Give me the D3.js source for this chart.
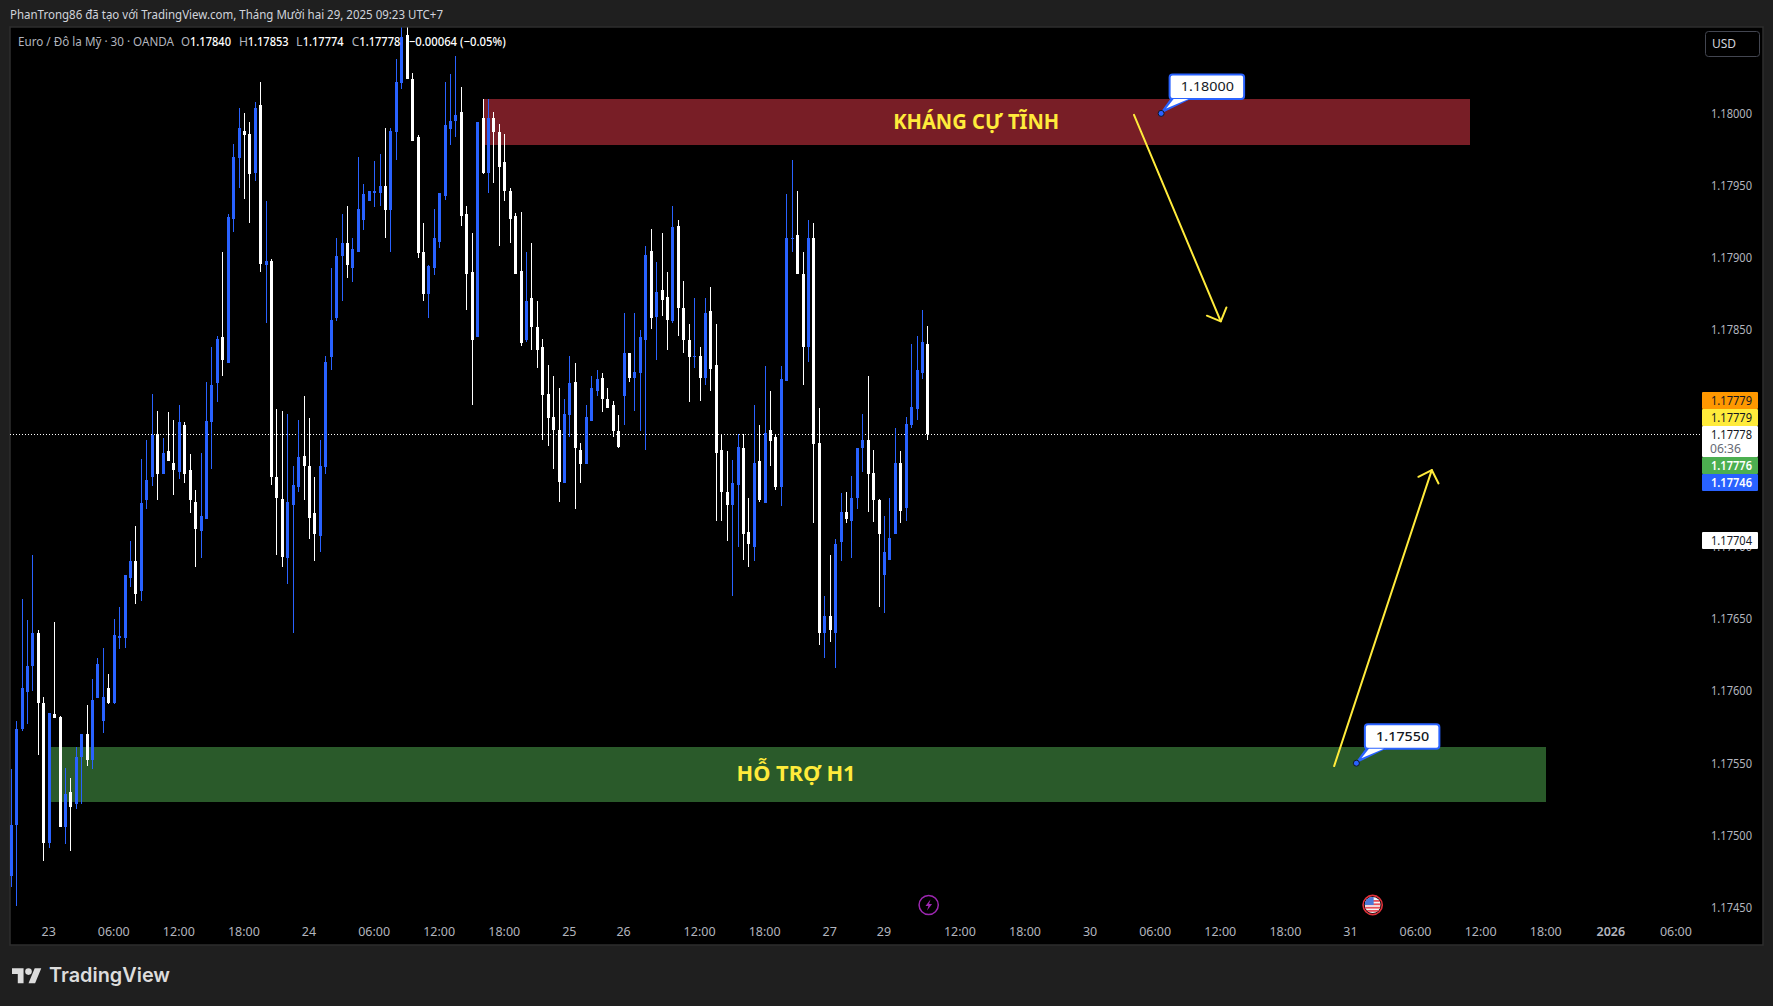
<!DOCTYPE html>
<html><head><meta charset="utf-8">
<script src="https://cdn.jsdelivr.net/npm/d3@7"></script>
<style>
html,body{margin:0;padding:0;background:#1f1f1f;overflow:hidden}
svg{display:block}
text{font-family:"Noto Sans",Roboto,sans-serif}
</style></head><body>
<script>
const opens=[1.17472,1.17507,1.17574,1.17599,1.17617,1.17640,1.17592,1.17495,1.17584,1.17582,
1.17506,1.17530,1.17522,1.17554,1.17570,1.17552,1.17595,1.17579,1.17602,1.17592,
1.17637,1.17637,1.17678,1.17690,1.17669,1.17732,1.17748,1.17778,1.17750,1.17766,
1.17758,1.17752,1.17784,1.17753,1.17731,1.17711,1.17719,1.17786,1.17813,1.17845,
1.17827,1.17927,1.17969,1.17988,1.17986,1.17959,1.18006,1.17895,1.17898,1.17748,
1.17733,1.17692,1.17729,1.17741,1.17763,1.17756,1.17723,1.17707,1.17755,1.17831,
1.17858,1.17901,1.17910,1.17893,1.17904,1.17926,1.17939,1.17945,1.17945,1.17950,
1.17933,1.17987,1.18021,1.18054,1.18024,1.17984,1.17904,1.17875,1.17893,1.17911,
1.17943,1.17989,1.17995,1.18001,1.17930,1.17890,1.17845,1.17997,1.17959,1.17997,
1.17987,1.17966,1.17946,1.17929,1.17891,1.17843,1.17872,1.17852,1.17838,1.17806,
1.17790,1.17781,1.17744,1.17791,1.17814,1.17767,1.17757,1.17787,1.17808,1.17817,
1.17802,1.17798,1.17780,1.17804,1.17834,1.17817,1.17820,1.17843,1.17905,1.17859,
1.17878,1.17873,1.17856,1.17922,1.17865,1.17843,1.17831,1.17832,1.17817,1.17863,
1.17826,1.17767,1.17738,1.17729,1.17743,1.17768,1.17710,1.17700,1.17759,1.17730,
1.17781,1.17776,1.17741,1.17815,1.17913,1.17916,1.17889,1.17838,1.17914,1.17772,
1.17640,1.17652,1.17640,1.17703,1.17724,1.17718,1.17734,1.17768,1.17774,1.17751,
1.17732,1.17680,1.17691,1.17709,1.17758,1.17727,1.17784,1.17795,1.17820,1.17840];
const highs=[1.17546,1.17579,1.17664,1.17649,1.17694,1.17642,1.17596,1.17585,1.17648,1.17583,
1.17547,1.17540,1.17561,1.17570,1.17590,1.17608,1.17623,1.17630,1.17612,1.17650,
1.17658,1.17680,1.17704,1.17714,1.17761,1.17774,1.17806,1.17794,1.17775,1.17793,
1.17788,1.17798,1.17786,1.17764,1.17739,1.17765,1.17814,1.17838,1.17846,1.17904,
1.17930,1.17979,1.18004,1.18000,1.17994,1.18008,1.18022,1.17939,1.17899,1.17795,
1.17794,1.17792,1.17756,1.17788,1.17804,1.17789,1.17748,1.17774,1.17832,1.17893,
1.17914,1.17930,1.17936,1.17914,1.17970,1.17951,1.17946,1.17967,1.17972,1.17990,
1.17990,1.18038,1.18060,1.18060,1.18028,1.17985,1.17924,1.17895,1.17934,1.17945,
1.18022,1.18027,1.18040,1.18018,1.17936,1.17917,1.17994,1.18010,1.18010,1.18001,
1.17993,1.17986,1.17948,1.17931,1.17932,1.17904,1.17910,1.17870,1.17844,1.17826,
1.17818,1.17810,1.17802,1.17832,1.17827,1.17772,1.17798,1.17818,1.17822,1.17820,
1.17810,1.17801,1.17791,1.17862,1.17834,1.17862,1.17850,1.17908,1.17920,1.17897,
1.17917,1.17890,1.17936,1.17926,1.17884,1.17854,1.17872,1.17838,1.17872,1.17880,
1.17854,1.17778,1.17766,1.17760,1.17778,1.17778,1.17734,1.17798,1.17784,1.17825,
1.17808,1.17777,1.17825,1.17944,1.17968,1.17946,1.17904,1.17926,1.17924,1.17796,
1.17666,1.17694,1.17705,1.17737,1.17738,1.17749,1.17768,1.17792,1.17818,1.17767,
1.17733,1.17721,1.17734,1.17782,1.17766,1.17790,1.17840,1.17846,1.17864,1.17853];
const lows=[1.17464,1.17451,1.17572,1.17577,1.17600,1.17556,1.17482,1.17491,1.17581,1.17506,
1.17494,1.17489,1.17518,1.17522,1.17548,1.17546,1.17595,1.17571,1.17591,1.17591,
1.17629,1.17630,1.17672,1.17660,1.17662,1.17726,1.17742,1.17732,1.17750,1.17759,
1.17736,1.17747,1.17744,1.17723,1.17686,1.17692,1.17719,1.17754,1.17800,1.17818,
1.17827,1.17918,1.17948,1.17941,1.17924,1.17953,1.17890,1.17855,1.17743,1.17694,
1.17686,1.17674,1.17640,1.17738,1.17732,1.17705,1.17690,1.17696,1.17750,1.17822,
1.17856,1.17870,1.17886,1.17883,1.17904,1.17919,1.17939,1.17935,1.17936,1.17914,
1.17904,1.17968,1.18017,1.18024,1.17981,1.17900,1.17870,1.17858,1.17888,1.17907,
1.17940,1.17978,1.17984,1.17922,1.17864,1.17798,1.17845,1.17958,1.17945,1.17952,
1.17908,1.17939,1.17910,1.17889,1.17839,1.17842,1.17836,1.17824,1.17774,1.17770,
1.17754,1.17731,1.17744,1.17776,1.17726,1.17744,1.17757,1.17787,1.17804,1.17793,
1.17796,1.17776,1.17768,1.17784,1.17814,1.17794,1.17780,1.17767,1.17851,1.17829,
1.17860,1.17836,1.17855,1.17846,1.17834,1.17800,1.17824,1.17801,1.17812,1.17808,
1.17718,1.17718,1.17704,1.17666,1.17700,1.17691,1.17686,1.17690,1.17731,1.17730,
1.17756,1.17739,1.17728,1.17815,1.17904,1.17889,1.17812,1.17828,1.17716,1.17632,
1.17623,1.17634,1.17616,1.17690,1.17716,1.17692,1.17726,1.17752,1.17724,1.17717,
1.17658,1.17654,1.17691,1.17709,1.17716,1.17718,1.17782,1.17788,1.17816,1.17774];
const closes=[1.17507,1.17574,1.17602,1.17617,1.17640,1.17592,1.17495,1.17585,1.17581,1.17506,
1.17529,1.17520,1.17554,1.17570,1.17552,1.17594,1.17619,1.17596,1.17592,1.17639,
1.17638,1.17680,1.17690,1.17667,1.17730,1.17746,1.17777,1.17750,1.17765,1.17759,
1.17753,1.17786,1.17750,1.17732,1.17712,1.17721,1.17787,1.17812,1.17844,1.17829,
1.17928,1.17970,1.17990,1.17985,1.17958,1.18004,1.17896,1.17898,1.17748,1.17734,
1.17693,1.17731,1.17743,1.17762,1.17756,1.17720,1.17709,1.17756,1.17828,1.17857,
1.17901,1.17910,1.17895,1.17906,1.17934,1.17944,1.17946,1.17946,1.17950,1.17933,
1.17988,1.18022,1.18053,1.18024,1.17981,1.17903,1.17875,1.17894,1.17914,1.17945,
1.17992,1.17995,1.17999,1.17929,1.17889,1.17843,1.17994,1.17959,1.17997,1.17987,
1.17963,1.17946,1.17927,1.17889,1.17841,1.17870,1.17852,1.17836,1.17805,1.17789,
1.17781,1.17745,1.17792,1.17813,1.17768,1.17757,1.17790,1.17810,1.17816,1.17802,
1.17796,1.17780,1.17769,1.17834,1.17817,1.17821,1.17845,1.17902,1.17858,1.17876,
1.17871,1.17857,1.17921,1.17865,1.17843,1.17831,1.17832,1.17817,1.17862,1.17823,
1.17765,1.17738,1.17729,1.17744,1.17769,1.17709,1.17702,1.17758,1.17732,1.17779,
1.17773,1.17741,1.17816,1.17914,1.17914,1.17889,1.17838,1.17914,1.17771,1.17640,
1.17652,1.17642,1.17702,1.17724,1.17719,1.17734,1.17768,1.17774,1.17750,1.17732,
1.17709,1.17696,1.17706,1.17758,1.17725,1.17785,1.17797,1.17822,1.17842,1.17778];

const priceTicks=[1.18000,1.17950,1.17900,1.17850,1.17700,1.17650,1.17600,1.17550,1.17500,1.17450];
const timeTickBars=[7,19,31,43,55,67,79,91,103,113,127,139,151,161,175,187,199,211,223,235,247,259,271,283,295,307];
const timeTickLabels=["23","06:00","12:00","18:00","24","06:00","12:00","18:00","25","26","12:00","18:00","27","29","12:00","18:00","30","06:00","12:00","18:00","31","06:00","12:00","18:00","2026","06:00"];

const zoneNames=["KHÁNG CỰ TĨNH","HỖ TRỢ H1"];
const zoneStartBars=[87,7.2];
const zoneEndBars=[269,283];
const zoneTops=[1.18010,1.17561];
const zoneBottoms=[1.17978,1.17523];
const zoneColors=["#781e26","#2a5a2a"];
const zoneLabelBars=[177.9,144.7];
const zoneLabelWidths=[166,119];

const arrowStartBars=[207,243.9];
const arrowStartPrices=[1.17999,1.17548];
const arrowEndBars=[223,261.9];
const arrowEndPrices=[1.17856,1.17753];

const noteBars=[212,248];
const notePrices=[1.18000,1.17550];
const noteTexts=["1.18000","1.17550"];

const tagPrices=[1.17779,1.17779,1.17778,1.17776,1.17746,1.17704];

const W=1773,H=1006;
const x=d3.scaleLinear().domain([0,307]).range([11.2,1676.4]);
const y=d3.scaleLinear().domain([1.18,1.1745]).range([113.4,907.6]);
const BLUE="#2962ff",YEL="#ffeb3b",AXIS="#b2b5be";
const bars=opens.map((o,i)=>({i,o,h:highs[i],l:lows[i],c:closes[i]}));

const svg=d3.select("body").append("svg").attr("width",W).attr("height",H).attr("viewBox",`0 0 ${W} ${H}`);
svg.append("rect").attr("width",W).attr("height",H).attr("fill","#1f1f1f");
// pane
svg.append("rect").attr("x",10).attr("y",27).attr("width",1753).attr("height",918).attr("fill","#000").attr("stroke","#2e2e2e").attr("stroke-width",1.5);
const defs=svg.append("defs");
defs.append("clipPath").attr("id","pane").append("rect").attr("x",10).attr("y",27.5).attr("width",1753).attr("height",917);
defs.append("clipPath").attr("id","flag").append("circle").attr("r",8);

const chart=svg.append("g").attr("clip-path","url(#pane)");

// zones
chart.append("g").selectAll("rect").data(zoneNames).join("rect")
 .attr("x",(d,i)=>x(zoneStartBars[i])).attr("width",(d,i)=>x(zoneEndBars[i])-x(zoneStartBars[i]))
 .attr("y",(d,i)=>y(zoneTops[i])).attr("height",(d,i)=>y(zoneBottoms[i])-y(zoneTops[i]))
 .attr("fill",(d,i)=>zoneColors[i]).attr("shape-rendering","crispEdges");

// last price line
chart.append("line").attr("x1",10).attr("x2",1701).attr("y1",Math.round(y(closes[169]))+.5).attr("y2",Math.round(y(closes[169]))+.5)
 .attr("stroke","#fff").attr("stroke-width",1).attr("stroke-dasharray","1 2");

// candles
const cg=chart.append("g").attr("shape-rendering","crispEdges");
const col=d=>d.c>=d.o?BLUE:"#ffffff";
cg.selectAll("rect.w").data(bars).join("rect").attr("class","w")
 .attr("x",d=>Math.floor(x(d.i))).attr("width",1)
 .attr("y",d=>Math.round(y(d.h))).attr("height",d=>Math.max(1,Math.round(y(d.l))-Math.round(y(d.h))))
 .attr("fill",col);
cg.selectAll("rect.b").data(bars).join("rect").attr("class","b")
 .attr("x",d=>Math.floor(x(d.i))-1).attr("width",3)
 .attr("y",d=>Math.round(y(Math.max(d.o,d.c))))
 .attr("height",d=>Math.max(1,Math.round(y(Math.min(d.o,d.c)))-Math.round(y(Math.max(d.o,d.c)))))
 .attr("fill",col);

// zone labels
chart.append("g").selectAll("text").data(zoneNames).join("text")
 .attr("x",(d,i)=>x(zoneLabelBars[i])).attr("y",(d,i)=>(y(zoneTops[i])+y(zoneBottoms[i]))/2+1)
 .attr("text-anchor","middle").attr("dominant-baseline","middle")
 .attr("fill",YEL).attr("font-size",21).attr("font-weight",700)
 .attr("textLength",(d,i)=>zoneLabelWidths[i]).attr("lengthAdjust","spacingAndGlyphs")
 .text(d=>d);

// arrows
const ag=chart.append("g").attr("fill","none").attr("stroke",YEL).attr("stroke-width",2).attr("stroke-linecap","round").attr("stroke-linejoin","round");
arrowStartBars.forEach((b,i)=>{
  const x0=x(b),y0=y(arrowStartPrices[i]),x1=x(arrowEndBars[i]),y1=y(arrowEndPrices[i]);
  const a=Math.atan2(y0-y1,x0-x1),L=15,t=Math.PI/4;
  ag.append("path").attr("d",d3.line()([[x0,y0],[x1,y1]]));
  ag.append("path").attr("d",d3.line()([[x1+L*Math.cos(a+t),y1+L*Math.sin(a+t)],[x1,y1],[x1+L*Math.cos(a-t),y1+L*Math.sin(a-t)]]));
});

// callouts
noteTexts.forEach((s,i)=>{
  const dx=x(noteBars[i]),dy=y(notePrices[i]);
  const g=chart.append("g");
  const bl=dx+8.5,bt=dy-39,bw=74.5,bh=24.5;
  g.append("path").attr("d",d3.line()([[dx,dy],[bl+2,bt+bh],[bl+21,bt+bh]])).attr("fill",BLUE).attr("stroke",BLUE).attr("stroke-width",2).attr("stroke-linejoin","round");
  g.append("rect").attr("x",bl).attr("y",bt).attr("width",bw).attr("height",bh).attr("rx",3).attr("fill","#fff").attr("stroke",BLUE).attr("stroke-width",2);
  g.append("path").attr("d",d3.line()([[dx+5,dy-5],[bl+4,bt+bh],[bl+19,bt+bh]])).attr("fill","#fff");
  g.append("circle").attr("cx",dx).attr("cy",dy).attr("r",3).attr("fill",BLUE).attr("stroke","#131722").attr("stroke-width",1);
  g.append("text").attr("x",bl+bw/2+0.5).attr("y",bt+bh/2+1).attr("text-anchor","middle").attr("dominant-baseline","middle")
   .attr("fill","#131722").attr("font-size",13).attr("font-weight",i===1?500:400).attr("textLength",53).attr("lengthAdjust","spacingAndGlyphs").text(s);
});

// events
const ev=chart.append("g");
const e1=ev.append("g").attr("transform",`translate(${x(169)+0.8},905)`);
e1.append("circle").attr("r",9.6).attr("fill","none").attr("stroke","#9c27b0").attr("stroke-width",1.5);
e1.append("path").attr("d","M1.8,-5.5 L-3.2,1 L-0.3,1 L-1.6,5.5 L3.4,-1 L0.4,-1 Z").attr("fill","#9c27b0");
const e2=ev.append("g").attr("transform",`translate(${x(251)},905)`);
e2.append("circle").attr("r",9.6).attr("fill","#000").attr("stroke","#e0313a").attr("stroke-width",1.6);
const fl=e2.append("g").attr("clip-path","url(#flag)");
fl.append("rect").attr("x",-8).attr("y",-8).attr("width",16).attr("height",16).attr("fill","#f5f5f5");
[-5,-1.6,1.8,5].forEach(v=>fl.append("rect").attr("x",-8).attr("y",v).attr("width",16).attr("height",1.8).attr("fill","#e8505b"));
fl.append("rect").attr("x",-8).attr("y",-8).attr("width",9).attr("height",8).attr("fill","#4a78d8");

// price axis
svg.append("g").selectAll("text").data(priceTicks).join("text")
 .attr("x",1752).attr("y",d=>y(d)+1).attr("text-anchor","end").attr("dominant-baseline","middle")
 .attr("fill",AXIS).attr("font-size",12.5).attr("textLength",41).attr("lengthAdjust","spacingAndGlyphs")
 .text(d=>d.toFixed(5));

// time axis
svg.append("g").selectAll("text").data(timeTickLabels).join("text")
 .attr("x",(d,i)=>x(timeTickBars[i])-0.5).attr("y",933).attr("text-anchor","middle").attr("dominant-baseline","middle")
 .attr("fill",(d)=>AXIS).attr("font-size",12.5).attr("font-weight",d=>d==="2026"?600:400)
 .text(d=>d);

// price tags
const tagColors=["#ff9800","#ffeb3b","#ffffff","#4caf50","#2962ff","#ffffff"];
const tagText=["#131722","#131722","#131722","#ffffff","#ffffff","#131722"];
const tagTops=[392,409,426,457,474,532];
const tagHeights=[17,17,31,17,17,17];
const tg=svg.append("g");
tagPrices.forEach((p,i)=>{
  tg.append("rect").attr("x",1702).attr("y",tagTops[i]).attr("width",56).attr("height",tagHeights[i]).attr("rx",1).attr("fill",tagColors[i]);
  tg.append("text").attr("x",1752).attr("y",tagTops[i]+9.5).attr("text-anchor","end").attr("dominant-baseline","middle")
   .attr("fill",tagText[i]).attr("font-size",12.5).attr("font-weight",(i==3||i==4)?600:400)
   .attr("textLength",41).attr("lengthAdjust","spacingAndGlyphs").text(p.toFixed(5));
});
tg.append("text").attr("x",1710).attr("y",449.5).attr("dominant-baseline","middle").attr("fill","#666a75").attr("font-size",12).attr("textLength",31).attr("lengthAdjust","spacingAndGlyphs").text("06:36");

// USD box
svg.append("rect").attr("x",1705.5).attr("y",31.5).attr("width",54).attr("height",25).attr("rx",3).attr("fill","#000").attr("stroke","#434651");
svg.append("text").attr("x",1724).attr("y",45).attr("text-anchor","middle").attr("dominant-baseline","middle").attr("fill","#d1d4dc").attr("font-size",12).text("USD");

// header
svg.append("text").attr("x",10).attr("y",16).attr("dominant-baseline","middle").attr("fill","#d1d4dc").attr("font-size",12.5)
 .attr("textLength",433).attr("lengthAdjust","spacingAndGlyphs")
 .text("PhanTrong86 đã tạo với TradingView.com, Tháng Mười hai 29, 2025 09:23 UTC+7");

// legend
const legend=[
 ["Euro / Đô la Mỹ · 30 · OANDA",18,156,AXIS,400],
 ["O",181,9,AXIS,400],[opens[169].toFixed(5),190,41,"#fff",500],
 ["H",239,9,AXIS,400],[highs[169].toFixed(5),247.7,41,"#fff",500],
 ["L",296,6.5,AXIS,400],[lows[169].toFixed(5),302.7,41,"#fff",500],
 ["C",351.7,7.5,AXIS,400],[closes[169].toFixed(5),359.3,41,"#fff",500],
 ["−0.00064 (−0.05%)",408.7,97,"#fff",500]
];
svg.append("g").selectAll("text").data(legend).join("text")
 .attr("x",d=>d[1]).attr("y",43).attr("dominant-baseline","middle").attr("fill",d=>d[3]).attr("font-size",12.5).attr("font-weight",d=>d[4])
 .attr("textLength",d=>d[2]).attr("lengthAdjust","spacingAndGlyphs").text(d=>d[0]);

// TradingView logo
const lg=svg.append("g").attr("transform","translate(12,965) scale(0.825)").attr("fill","#dcdcdc");
lg.append("path").attr("d","M14 22H7V11H0V4h14v18zM28 22h-8l7.5-18h8L28 22z");
lg.append("circle").attr("cx",20).attr("cy",8).attr("r",4);
svg.append("text").attr("x",49).attr("y",977).attr("dominant-baseline","middle").attr("fill","#dcdcdc")
 .style("font-family","Inter,Roboto,sans-serif").attr("font-size",20).attr("font-weight",600)
 .attr("textLength",121).attr("lengthAdjust","spacingAndGlyphs").text("TradingView");
</script>
</body></html>
